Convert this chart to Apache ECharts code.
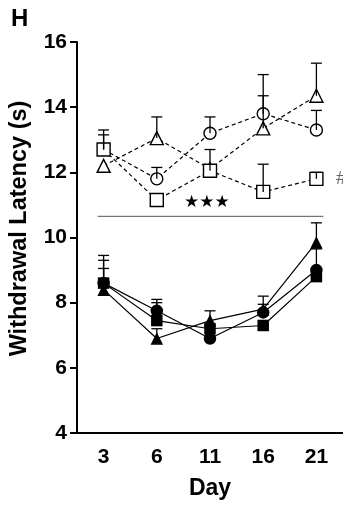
<!DOCTYPE html>
<html>
<head>
<meta charset="utf-8">
<script src="https://cdn.jsdelivr.net/npm/echarts@6/dist/echarts.min.js"></script>
<style>
  html, body { margin: 0; padding: 0; background: #fff; }
  #chart { width: 343px; height: 506px; }
</style>
</head>
<body>
<div id="chart"></div>
<script>
// 数据：横轴天数 + 各组均值与误差上限
var days = ['3', '6', '11', '16', '21'];
var yTicks = [4, 16, 2]; // min, max, interval

var openCircle = [12.7, 11.8, 13.2, 13.8, 13.3];
var openCircleTop = [13.3, 12.15, 13.7, 14.35, 13.9];
var openTriangle = [12.2, 13.05, 12.1, 13.35, 14.35];
var openTriangleTop = [12.2, 13.7, 12.1, 15.0, 15.35];
var openSquare = [12.7, 11.15, 12.05, 11.4, 11.8];
var openSquareTop = [13.15, 11.15, 12.7, 12.25, 12.0];

var fillCircle = [8.6, 7.75, 6.9, 7.7, 9.0];
var fillCircleTop = [9.3, 8.1, 6.9, 8.2, 9.65];
var fillSquare = [8.6, 7.45, 7.2, 7.3, 8.8];
var fillSquareTop = [9.45, 8.0, 7.2, 7.3, 8.8];
var fillTriangle = [8.4, 6.9, 7.45, 7.8, 9.85];
var fillTriangleTop = [9.05, 7.2, 7.75, 7.95, 10.45];

var sigLevel = [10.65];

var chartDom = document.getElementById('chart');
var myChart = echarts.init(chartDom);
var FONT = '"Liberation Sans", Arial, sans-serif';

function errData(means, tops) {
  return means.map(function (m, i) { return [i, m, tops[i]]; });
}

// 只画向上的误差线 + 顶端横帽
function renderErr(params, api) {
  var x = api.value(0);
  var lo = api.coord([x, api.value(1)]);
  var hi = api.coord([x, api.value(2)]);
  if (hi[1] >= lo[1] - 1) return null;
  var style = { stroke: '#000', lineWidth: 1.3 };
  return {
    type: 'group',
    children: [
      { type: 'line', shape: { x1: lo[0], y1: lo[1], x2: hi[0], y2: hi[1] }, style: style },
      { type: 'line', shape: { x1: hi[0] - 5.5, y1: hi[1], x2: hi[0] + 5.5, y2: hi[1] }, style: style }
    ]
  };
}

function errSeries(means, tops) {
  return {
    type: 'custom',
    renderItem: renderErr,
    data: errData(means, tops),
    z: 5,
    silent: true
  };
}

function lineSeries(name, data, symbol, size, open) {
  return {
    name: name,
    type: 'line',
    data: data,
    symbol: symbol,
    symbolSize: size,
    z: 3,
    lineStyle: { color: '#000', width: 1.2, type: open ? [4, 3] : 'solid' },
    itemStyle: open
      ? { color: '#fff', borderColor: '#000', borderWidth: 1.4 }
      : { color: '#000', borderColor: '#000', borderWidth: 0 },
    emphasis: { disabled: true },
    animation: false
  };
}

var option = {
  animation: false,
  grid: { left: 77, right: 0, top: 42, bottom: 73 },
  xAxis: {
    type: 'category',
    data: days,
    boundaryGap: true,
    name: 'Day',
    nameLocation: 'middle',
    nameGap: 44,
    nameTextStyle: { color: '#000', fontSize: 23, fontWeight: 'bold', fontFamily: FONT },
    axisLine: { lineStyle: { color: '#000', width: 2 } },
    axisTick: { alignWithLabel: true, length: 6, lineStyle: { color: '#000', width: 2 } },
    axisLabel: { color: '#000', fontSize: 21, fontWeight: 'bold', fontFamily: FONT, margin: 14 }
  },
  yAxis: {
    type: 'value',
    min: yTicks[0],
    max: yTicks[1],
    interval: yTicks[2],
    name: 'Withdrawal Latency (s)',
    nameLocation: 'middle',
    nameGap: 45,
    nameTextStyle: { color: '#000', fontSize: 23.5, fontWeight: 'bold', fontFamily: FONT, padding: [0, 0, 0, 18] },
    axisLine: { show: true, lineStyle: { color: '#000', width: 2 } },
    axisTick: { show: true, length: 7, lineStyle: { color: '#000', width: 2 } },
    axisLabel: { color: '#000', fontSize: 21, fontWeight: 'bold', fontFamily: FONT, margin: 10 },
    splitLine: { show: false }
  },
  graphic: [
    { type: 'text', left: 11, top: 7, style: { text: 'H', fontSize: 24, fontWeight: 'bold', fontFamily: FONT, fill: '#000' } },
    { type: 'text', left: 184, top: 194, style: { text: '★★★', fontSize: 17, fontFamily: '"DejaVu Sans", sans-serif', fill: '#000' } },
    { type: 'text', left: 336, top: 169, style: { text: '#', fontSize: 19, fontFamily: FONT, fill: '#666' } }
  ],
  series: [
    lineSeries('Open circle', openCircle, 'circle', 12, true),
    lineSeries('Open triangle', openTriangle, 'triangle', 13, true),
    lineSeries('Open square', openSquare, 'rect', 13, true),
    lineSeries('Filled circle', fillCircle, 'circle', 12.5, false),
    lineSeries('Filled square', fillSquare, 'rect', 11.5, false),
    lineSeries('Filled triangle', fillTriangle, 'triangle', 12.5, false),
    errSeries(openCircle, openCircleTop),
    errSeries(openTriangle, openTriangleTop),
    errSeries(openSquare, openSquareTop),
    errSeries(fillCircle, fillCircleTop),
    errSeries(fillSquare, fillSquareTop),
    errSeries(fillTriangle, fillTriangleTop),
    {
      // 显著性分隔线
      type: 'custom',
      silent: true,
      z: 2,
      data: sigLevel.map(function (v) { return [0, days.length - 1, v]; }),
      renderItem: function (params, api) {
        var a = api.coord([api.value(0), api.value(2)]);
        var b = api.coord([api.value(1), api.value(2)]);
        return {
          type: 'line',
          shape: { x1: a[0] - 6, y1: a[1], x2: b[0] + 7, y2: b[1] },
          style: { stroke: '#555', lineWidth: 1 }
        };
      }
    }
  ]
};

myChart.setOption(option);

window.addEventListener('resize', function () {
  myChart.resize();
});
</script>
</body>
</html>
